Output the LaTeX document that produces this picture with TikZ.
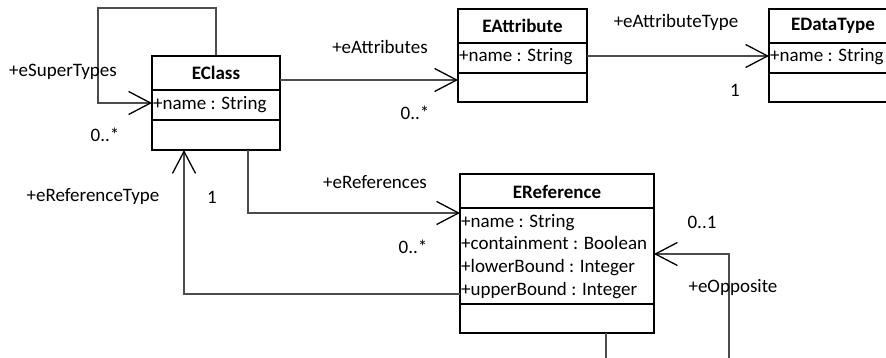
\documentclass[tikz,border=0pt]{standalone}
\usepackage{fontspec}
\setmainfont{Carlito}
\usetikzlibrary{arrows.meta,calc}

\tikzset{
  box/.style={draw=black, line width=1.6pt, inner sep=0pt},
  sep/.style={draw=black, line width=1.6pt},
  ttl/.style={font=\fontsize{19}{22.7}\selectfont\bfseries, inner sep=0pt},
  attr/.style={font=\fontsize{19}{22.7}\selectfont, inner sep=0pt, anchor=west, align=left},
  lbl/.style={font=\fontsize{19}{22.7}\selectfont, inner sep=0pt},
  assoc/.style={draw=black!70, line width=1.1pt,
    -{Straight Barb[length=22pt,width=23pt,line width=1.3pt,color=black]}},
  plain/.style={draw=black!70, line width=1.1pt}
}

\begin{document}
\begin{tikzpicture}[x=1pt,y=-1pt]
\useasboundingbox (0,0) rectangle (886,358);
\clip (0,0) rectangle (886,358);

% ---- class boxes ----
\node[box, minimum width=128pt, minimum height=94pt] (eclass) at (216,103) {};
\draw[sep] (152,90) -- (280,90);
\draw[sep] (152,120) -- (280,120);
\node[ttl] (eclassT) at (216,73) {EClass};
\node[attr] (eclassA) at (153,105) {+name : String};

\node[box, minimum width=129pt, minimum height=93pt] (eattr) at (522.5,55.5) {};
\draw[sep] (458,43) -- (587,43);
\draw[sep] (458,73) -- (587,73);
\node[ttl] (eattrT) at (522.5,26) {EAttribute};
\node[attr] (eattrA) at (459,57) {+name : String};

\node[box, minimum width=128pt, minimum height=93pt] (edt) at (833,55.5) {};
\draw[sep] (769,43) -- (897,43);
\draw[sep] (769,73) -- (897,73);
\node[ttl] (edtT) at (833,26) {EDataType};
\node[attr] (edtA) at (770,57) {+name : String};

\node[box, minimum width=194pt, minimum height=159pt] (eref) at (557,253.5) {};
\draw[sep] (460,208) -- (654,208);
\draw[sep] (460,304) -- (654,304);
\node[ttl] (erefT) at (557,192) {EReference};
\node[attr, anchor=north west] (erefA) at (461,214)
  {+name : String\\+containment : Boolean\\+lowerBound : Integer\\+upperBound : Integer};

% ---- connector bend points ----
\coordinate (stTop) at (98,8);
\coordinate (stEnd) at (152,103);
\coordinate (atFrom) at (280,80);
\coordinate (atTo) at (458,80);
\coordinate (atyFrom) at (587,56);
\coordinate (atyTo) at (769,56);
\coordinate (rfFrom) at (248,150);
\coordinate (rfTo) at (460,213);
\coordinate (rtFrom) at (460,294);
\coordinate (rtTo) at (184,150);
\coordinate (opFrom) at (606,333);
\coordinate (opLow) at (729,372);
\coordinate (opTo) at (654,254);

% ---- associations ----
\draw[assoc] (eclass.north) |- (stTop) |- (stEnd);
\draw[assoc] (atFrom) -- (atTo);
\draw[assoc] (atyFrom) -- (atyTo);
\draw[assoc] (rfFrom) |- (rfTo);
\draw[assoc] (rtFrom) -| (rtTo);
\draw[assoc] (opFrom) |- (opLow) |- (opTo);

% ---- role names and multiplicities ----
\node[lbl] (lSuper) at (63,72) {+eSuperTypes};
\node[lbl] (mSuper) at (105,135) {0..*};
\node[lbl] (lAttr) at (380,47) {+eAttributes};
\node[lbl] (mAttr) at (415,113) {0..*};
\node[lbl] (lAttrT) at (676,22) {+eAttributeType};
\node[lbl] (mAttrT) at (735,90) {1};
\node[lbl] (lRefT) at (93,197) {+eReferenceType};
\node[lbl] (mRefT) at (212,197) {1};
\node[lbl] (lRef) at (375,182) {+eReferences};
\node[lbl] (mRef) at (413,247) {0..*};
\node[lbl] (mOpp) at (702,222) {0..1};
\node[lbl] (lOpp) at (733,287) {+eOpposite};
\end{tikzpicture}
\end{document}
